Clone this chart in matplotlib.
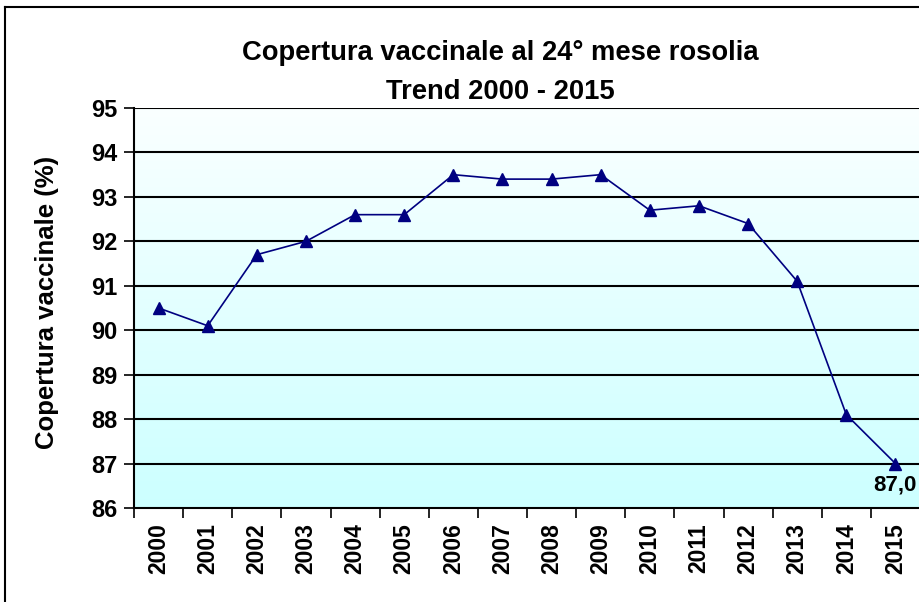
import numpy as np
import matplotlib
matplotlib.use('Agg')
import matplotlib.pyplot as plt
from matplotlib.lines import Line2D
from matplotlib.colors import LinearSegmentedColormap

plt.rcParams['font.family'] = ['Liberation Sans', 'DejaVu Sans']

# Data
years = ['2000', '2001', '2002', '2003', '2004', '2005', '2006', '2007',
         '2008', '2009', '2010', '2011', '2012', '2013', '2014', '2015']
coverage = [90.5, 90.1, 91.7, 92.0, 92.6, 92.6, 93.5, 93.4,
            93.4, 93.5, 92.7, 92.8, 92.4, 91.1, 88.1, 87.0]
y_ticks = [86, 87, 88, 89, 90, 91, 92, 93, 94, 95]

W, H = 919, 602
fig = plt.figure(figsize=(W / 100, H / 100), dpi=100)
fig.patch.set_facecolor('white')

# outer chart frame (left and top edges visible)
fig.add_artist(Line2D([4.5 / W, 4.5 / W], [0, 1 - 7 / H], color='black', lw=1.5))
fig.add_artist(Line2D([4.5 / W, 1], [1 - 7 / H, 1 - 7 / H], color='black', lw=1.5))

ax = fig.add_axes([134 / W, (H - 508) / H, 786 / W, 400 / H])

# gradient background: near white at top, light cyan at bottom
cmap = LinearSegmentedColormap.from_list('bg', ['#CCFFFF', '#FAFFFF'])
grad = np.linspace(0, 1, 256).reshape(-1, 1)
ax.imshow(grad, aspect='auto', cmap=cmap, origin='lower',
          extent=[0, 1, 0, 1], transform=ax.transAxes, zorder=0)

x = np.arange(len(years))
ax.set_xlim(-0.5, len(years) - 0.5)
ax.set_ylim(86, 95)

for v in y_ticks[1:]:
    ax.axhline(v, color='black', lw=1.5, zorder=1)

ax.plot(x, coverage, color='#000080', lw=1.2, marker='^', markersize=9,
        markerfacecolor='#000080', markeredgecolor='#000080', zorder=3)

ax.annotate('87,0', (x[-1], coverage[-1]), xytext=(0, -8), textcoords='offset points',
            ha='center', va='top', fontsize=16, fontweight='bold')

for s in ['top', 'right']:
    ax.spines[s].set_visible(False)
ax.spines['left'].set_linewidth(1.5)
ax.spines['bottom'].set_linewidth(1.5)

ax.set_yticks(y_ticks)
ax.set_yticklabels([str(v) for v in y_ticks], fontsize=17, fontweight='bold')
ax.tick_params(axis='y', length=7, width=1.2, pad=5)

ax.set_xticks(np.arange(-0.5, len(years) + 0.5, 1))
ax.set_xticklabels([])
ax.tick_params(axis='x', which='major', length=7, width=1.2)
ax.set_xticks(x, minor=True)
ax.set_xticklabels(years, minor=True, rotation=90, fontsize=16.5, fontweight='bold')
ax.tick_params(axis='x', which='minor', length=0, pad=11)

fig.text(47 / W, 1 - 302 / H, 'Copertura vaccinale (%)', rotation=90,
         ha='center', va='center', fontsize=18.5, fontweight='bold')

fig.text(500 / W, 1 - 60 / H, 'Copertura vaccinale al 24° mese rosolia',
         ha='center', va='baseline', fontsize=19.7, fontweight='bold')
fig.text(500 / W, 1 - 99 / H, 'Trend 2000 - 2015',
         ha='center', va='baseline', fontsize=19.7, fontweight='bold')

fig.savefig('out.png', dpi=100)
